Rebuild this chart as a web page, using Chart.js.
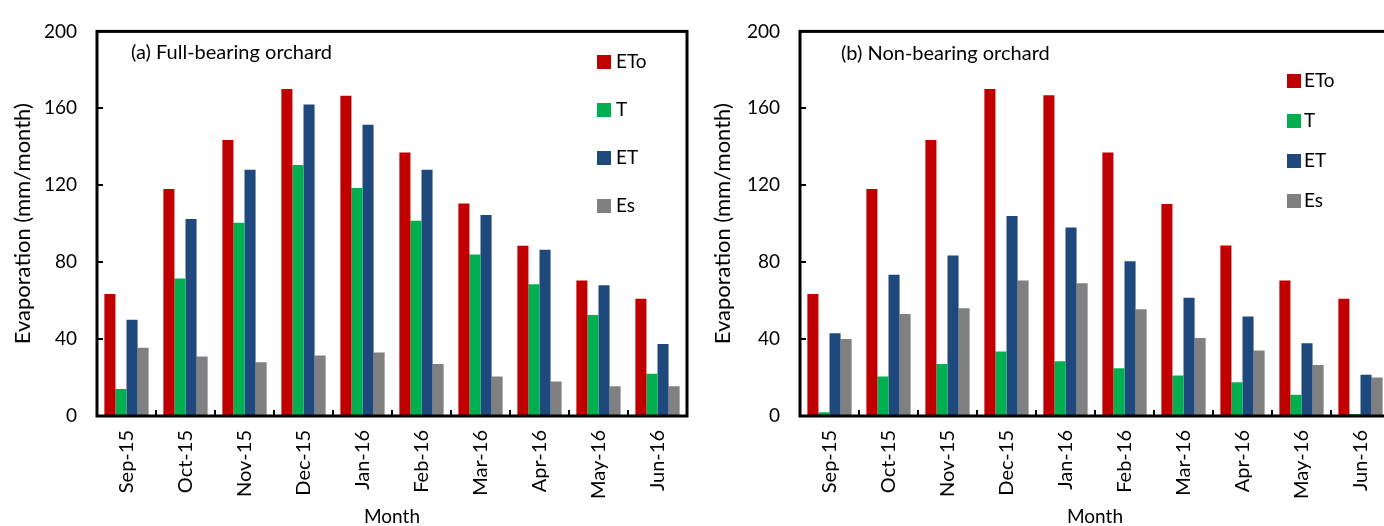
<!DOCTYPE html>
<html>
<head>
<meta charset="utf-8">
<script src="https://cdn.jsdelivr.net/npm/chart.js@4/dist/chart.umd.min.js"></script>
<style>
  html, body { margin: 0; padding: 0; background: #fff; overflow: hidden; width: 1384px; height: 526px; }
  .panel { position: absolute; top: 0; width: 700px; height: 526px; }
  #wrapA { left: 0; }
  #wrapB { left: 700px; }
</style>
</head>
<body>
<div class="panel" id="wrapA"><canvas id="chartA" width="700" height="526"></canvas></div>
<div class="panel" id="wrapB"><canvas id="chartB" width="700" height="526"></canvas></div>
<script>
const months = ["Sep-15", "Oct-15", "Nov-15", "Dec-15", "Jan-16", "Feb-16", "Mar-16", "Apr-16", "May-16", "Jun-16"];
const yTicks = [0, 40, 80, 120, 160, 200];

// (a) full-bearing orchard, mm/month
const etoA = [63.5, 118, 143.5, 170, 166.5, 137, 110.5, 88.5, 70.5, 61];
const tA   = [14, 71.5, 100.5, 130.5, 118.5, 101.5, 84, 68.5, 52.5, 22];
const etA  = [50, 102.5, 128, 162, 151.5, 128, 104.5, 86.5, 68, 37.5];
const esA  = [35.5, 31, 28, 31.5, 33, 27, 20.5, 18, 15.5, 15.5];

// (b) non-bearing orchard, mm/month
const etoB = [63.5, 118, 143.5, 170, 166.8, 137, 110.3, 88.7, 70.5, 61];
const tB   = [2, 20.5, 27, 33.5, 28.5, 24.8, 21, 17.5, 11, 1];
const etB  = [43, 73.5, 83.5, 104, 98, 80.5, 61.5, 51.8, 37.8, 21.5];
const esB  = [40, 53, 56, 70.5, 69, 55.5, 40.5, 34, 26.5, 20];

const seriesNames = ["ETo", "T", "ET", "Es"];
const seriesColors = ["#C00000", "#00B050", "#1F497D", "#808080"];

const FONT = "Lato, 'Open Sans', sans-serif";

// frame box, inward tick marks, panel caption and legend
const panelDecor = {
  id: "panelDecor",
  afterDatasetsDraw(chart, args, opts) {
    const { ctx, chartArea: a, scales: { x, y } } = chart;
    ctx.save();
    ctx.strokeStyle = "#000";
    ctx.lineWidth = 2;
    ctx.beginPath();
    y.ticks.forEach(t => {
      const py = Math.round(y.getPixelForValue(t.value));
      ctx.moveTo(a.left, py);
      ctx.lineTo(a.left + 6, py);
    });
    const half = (x.getPixelForValue(1) - x.getPixelForValue(0)) / 2;
    for (let i = 1; i < months.length; i++) {
      const px = Math.round(x.getPixelForValue(i) - half);
      ctx.moveTo(px, a.bottom);
      ctx.lineTo(px, a.bottom - 6);
    }
    ctx.stroke();
    ctx.lineWidth = 3;
    ctx.strokeRect(a.left, a.top, a.right - a.left, a.bottom - a.top);

    ctx.fillStyle = "#000";
    ctx.font = "20px " + FONT;
    ctx.textBaseline = "middle";
    ctx.textAlign = "left";
    ctx.fillText(opts.title, opts.titleX, opts.titleY);

    ctx.font = "19px " + FONT;
    chart.data.datasets.forEach((ds, i) => {
      const cy = opts.legendY + i * opts.legendGap;
      ctx.fillStyle = ds.backgroundColor;
      ctx.fillRect(opts.legendX, cy - 7, 14, 14);
      ctx.fillStyle = "#000";
      ctx.fillText(ds.label, opts.legendX + opts.legendText, cy);
    });
    ctx.restore();
  }
};

function makeChart(canvasId, values, axisWidth, titlePad, deco) {
  return new Chart(document.getElementById(canvasId), {
    type: "bar",
    data: {
      labels: months,
      datasets: values.map((v, i) => ({
        label: seriesNames[i],
        data: v,
        backgroundColor: seriesColors[i],
        borderWidth: 0,
        barPercentage: 1.0,
        categoryPercentage: 0.75,
      })),
    },
    options: {
      responsive: false,
      animation: false,
      layout: { padding: { left: 0, right: 700 - axisWidth - 590, top: 22, bottom: 0 } },
      plugins: {
        legend: { display: false },
        tooltip: { enabled: false },
        panelDecor: deco,
      },
      scales: {
        x: {
          grid: { display: false, drawTicks: false },
          border: { display: false },
          ticks: {
            autoSkip: false,
            minRotation: 90,
            maxRotation: 90,
            padding: 14,
            color: "#000",
            font: { family: FONT, size: 20 },
          },
          title: {
            display: true,
            text: "Month",
            color: "#000",
            font: { family: FONT, size: 19, lineHeight: 1 },
            padding: { top: 0, bottom: 0 },
          },
          afterFit: s => { s.height = 110; },
        },
        y: {
          min: 0,
          max: 200,
          grid: { display: false, drawTicks: false },
          border: { display: false },
          afterBuildTicks: s => { s.ticks = yTicks.map(v => ({ value: v })); },
          ticks: {
            padding: 20,
            color: "#000",
            font: { family: FONT, size: 19 },
          },
          title: {
            display: true,
            text: "Evaporation (mm/month)",
            color: "#000",
            font: { family: FONT, size: 22, lineHeight: 1.2 },
            padding: { top: 10, bottom: 0 },
          },
          afterFit: s => { s.width = axisWidth; },
        },
      },
    },
    plugins: [panelDecor],
  });
}

makeChart("chartA", [etoA, tA, etA, esA], 97, 10, {
  title: "(a) Full-bearing orchard", titleX: 131, titleY: 53,
  legendX: 597, legendY: 62, legendGap: 48, legendText: 19,
});

makeChart("chartB", [etoB, tB, etB, esB], 100, 14, {
  title: "(b) Non-bearing orchard", titleX: 141, titleY: 54,
  legendX: 587, legendY: 81, legendGap: 40, legendText: 17,
});
</script>
</body>
</html>
